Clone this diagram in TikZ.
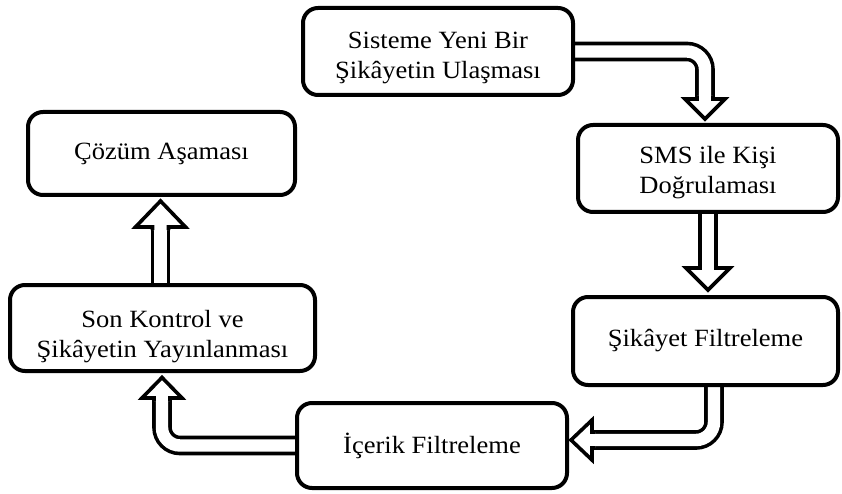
\documentclass[tikz,border=0pt]{standalone}
\usepackage{fontspec}
\setmainfont{Liberation Serif}[FakeStretch=1.07]
\pgfdeclarelayer{bg}
\pgfsetlayers{bg,main}
\newcommand\twolines[3]{\raisebox{-#1}[0pt][0pt]{\begin{tabular}{@{}c@{}}#2\\#3\end{tabular}}}
\tikzset{
  box/.style={draw=black, fill=white, line width=4pt, rounded corners=15pt,
    align=center, inner sep=0pt, font=\fontsize{24.8pt}{30pt}\selectfont},
  shaftout/.style={draw=black, line width=19.6pt, rounded corners=18pt},
  shaftin/.style={draw=white, line width=12.4pt, rounded corners=18pt},
  headst/.style={fill=white, draw=black, line width=3.6pt, line join=miter}
}
\begin{document}
\begin{tikzpicture}[x=1pt,y=-1pt]
\useasboundingbox (0,0) rectangle (842,494);
\node[box, minimum width=270pt, minimum height=87pt] (n1) at (438,51.5) {\twolines{12pt}{Sisteme Yeni Bir}{Şikâyetin Ulaşması}};
\node[box, minimum width=260pt, minimum height=87pt] (n2) at (708,168.5) {\twolines{10pt}{SMS ile Kişi}{Doğrulaması}};
\node[box, minimum width=265pt, minimum height=88pt] (n3) at (705.5,341) {\raisebox{-2pt}{Şikâyet Filtreleme}};
\node[box, minimum width=270pt, minimum height=85pt] (n4) at (432,445.5) {İçerik Filtreleme};
\node[box, minimum width=305pt, minimum height=86pt] (n5) at (162.5,328) {\twolines{15pt}{Son Kontrol ve}{Şikâyetin Yayınlanması}};
\node[box, minimum width=267pt, minimum height=83pt] (n6) at (161.5,153.5) {Çözüm Aşaması};
% arrow end coordinates
\coordinate (a1) at (705,99);
\coordinate (b0) at (708,168.5);
\coordinate (b1) at (708,268);
\coordinate (c0) at (714,341);
\coordinate (c1) at (592,440);
\coordinate (d1) at (162,398);
\coordinate (e0) at (160.5,328);
\coordinate (e1) at (160.5,227);
\begin{pgfonlayer}{bg}
% A
\draw[shaftout] (n1.center) -| (a1);
\draw[shaftin] (n1.center) -| (a1);
\filldraw[headst] (697,96) -- (697,99) -- (685,99) -- (705,119) -- (725,99) -- (713,99) -- (713,96);
% B
\draw[shaftout] (b0) -- (b1);
\draw[shaftin] (b0) -- (b1);
\filldraw[headst] (700,265) -- (700,268) -- (686,268) -- (708,290) -- (730,268) -- (716,268) -- (716,265);
% C
\draw[shaftout] (c0) |- (c1);
\draw[shaftin] (c0) |- (c1);
\filldraw[headst] (595,432) -- (592,432) -- (592,420) -- (571,440) -- (592,460) -- (592,448) -- (595,448);
% D
\draw[shaftout] (n4.center) -| (d1);
\draw[shaftin] (n4.center) -| (d1);
\filldraw[headst] (154,401) -- (154,398) -- (142,398) -- (162,377.5) -- (182,398) -- (170,398) -- (170,401);
% E
\draw[shaftout] (e0) -- (e1);
\draw[shaftin] (e0) -- (e1);
\filldraw[headst] (152.5,230) -- (152.5,227) -- (135.5,227) -- (160.5,201) -- (185.5,227) -- (168.5,227) -- (168.5,230);
\end{pgfonlayer}
\end{tikzpicture}
\end{document}
